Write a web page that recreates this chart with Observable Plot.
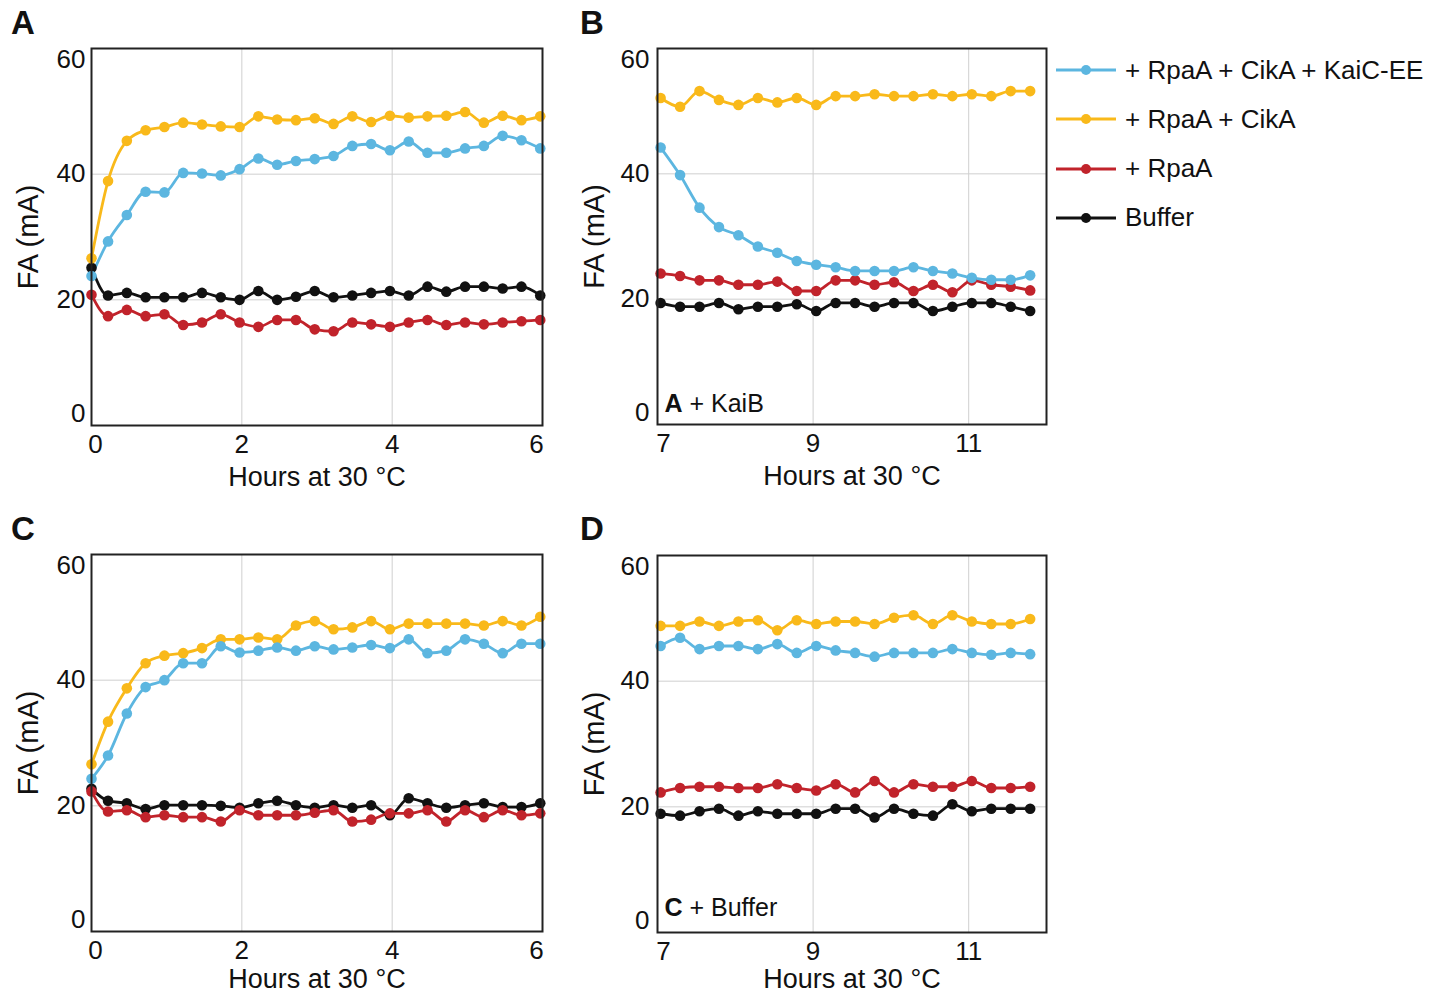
<!DOCTYPE html>
<html>
<head>
<meta charset="utf-8">
<script src="https://cdn.jsdelivr.net/npm/d3@7"></script>
<script src="https://cdn.jsdelivr.net/npm/@observablehq/plot@0.6"></script>
<style>
  html, body { margin: 0; padding: 0; background: #fff; }
  body { font-family: "Liberation Sans", Arial, Helvetica, sans-serif; color: #111; }
  #root { position: relative; width: 1431px; height: 995px; overflow: hidden; background: #fff; }
  .panel { position: absolute; }
  .letter { position: absolute; font-weight: bold; font-size: 33px; line-height: 33px; color: #111; }
  .legend { position: absolute; left: 1055px; top: 50px; }
  .legend .row { position: absolute; left: 0; height: 40px; display: flex; align-items: center; white-space: nowrap; font-size: 26px; }
  .legend svg { margin-right: 8px; }
</style>
</head>
<body>
<div id="root"></div>
<script>
// ---- Series ----
const seriesNames = ["+ RpaA + CikA + KaiC-EE", "+ RpaA + CikA", "+ RpaA", "Buffer"];
const seriesColors = ["#5cb6e0", "#f9b91a", "#c1232b", "#111111"];

// ---- Time points (hours at 30 °C) ----
const hoursEarly = [0, 0.22, 0.47, 0.72, 0.97, 1.22, 1.47, 1.72, 1.97, 2.22, 2.47, 2.72, 2.97, 3.22, 3.47, 3.72, 3.97, 4.22, 4.47, 4.72, 4.97, 5.22, 5.47, 5.72, 5.97];
const hoursLate = [7.04, 7.29, 7.54, 7.79, 8.04, 8.29, 8.54, 8.79, 9.04, 9.29, 9.54, 9.79, 10.04, 10.29, 10.54, 10.79, 11.04, 11.29, 11.54, 11.79];

// ---- Panel A ----
const aKaiCEE = [23.8, 29.3, 33.5, 37.2, 37.1, 40.2, 40.1, 39.8, 40.8, 42.5, 41.5, 42.1, 42.4, 42.9, 44.5, 44.8, 43.8, 45.2, 43.4, 43.4, 44.1, 44.5, 46.1, 45.4, 44.1];
const aCikA   = [26.6, 38.9, 45.3, 47.0, 47.5, 48.2, 47.9, 47.6, 47.5, 49.2, 48.7, 48.6, 48.9, 48.0, 49.2, 48.3, 49.3, 49.0, 49.2, 49.3, 49.9, 48.2, 49.3, 48.6, 49.2];
const aRpaA   = [20.8, 17.4, 18.4, 17.4, 17.7, 16.0, 16.4, 17.7, 16.4, 15.7, 16.8, 16.8, 15.3, 15.0, 16.4, 16.1, 15.7, 16.4, 16.8, 16.0, 16.4, 16.1, 16.4, 16.6, 16.8];
const aBuffer = [25.1, 20.7, 21.1, 20.4, 20.4, 20.4, 21.1, 20.4, 20.0, 21.4, 20.0, 20.5, 21.4, 20.4, 20.7, 21.1, 21.4, 20.7, 22.1, 21.3, 22.1, 22.1, 21.8, 22.1, 20.7];

// ---- Panel B (A + KaiB) ----
const bKaiCEE = [44.2, 39.8, 34.6, 31.5, 30.2, 28.4, 27.4, 26.1, 25.5, 25.1, 24.5, 24.5, 24.5, 25.1, 24.5, 24.1, 23.4, 23.1, 23.1, 23.8];
const bCikA   = [52.1, 50.7, 53.2, 51.8, 51.0, 52.1, 51.4, 52.1, 51.0, 52.4, 52.4, 52.7, 52.4, 52.4, 52.7, 52.4, 52.7, 52.4, 53.2, 53.2];
const bRpaA   = [24.1, 23.7, 23.0, 23.0, 22.3, 22.3, 22.8, 21.3, 21.3, 23.0, 23.0, 22.3, 22.7, 21.3, 22.3, 21.1, 23.0, 22.3, 22.0, 21.4];
const bBuffer = [19.4, 18.8, 18.8, 19.4, 18.4, 18.8, 18.8, 19.2, 18.1, 19.4, 19.4, 18.8, 19.4, 19.4, 18.1, 18.8, 19.4, 19.4, 18.8, 18.1];

// ---- Panel C ----
const cKaiCEE = [24.3, 28.0, 34.7, 38.9, 40.0, 42.7, 42.7, 45.4, 44.4, 44.7, 45.2, 44.7, 45.4, 44.9, 45.2, 45.6, 45.1, 46.5, 44.3, 44.7, 46.5, 45.8, 44.3, 45.8, 45.8];
const cCikA   = [26.6, 33.4, 38.7, 42.7, 43.9, 44.3, 45.1, 46.5, 46.5, 46.8, 46.5, 48.7, 49.4, 48.1, 48.4, 49.4, 48.1, 49.0, 49.0, 49.0, 49.0, 48.7, 49.4, 48.7, 50.1];
const cRpaA   = [22.3, 19.1, 19.3, 18.2, 18.5, 18.2, 18.2, 17.5, 19.3, 18.5, 18.5, 18.5, 18.9, 19.3, 17.5, 17.8, 18.8, 18.8, 19.3, 17.5, 19.3, 18.2, 19.3, 18.5, 18.8];
const cBuffer = [22.7, 20.8, 20.4, 19.5, 20.1, 20.1, 20.1, 20.0, 19.7, 20.4, 20.8, 20.1, 19.7, 20.1, 19.7, 20.1, 18.5, 21.2, 20.4, 19.7, 20.1, 20.4, 19.8, 19.8, 20.4];

// ---- Panel D (C + Buffer) ----
const dKaiCEE = [45.6, 46.9, 45.1, 45.6, 45.6, 45.1, 45.9, 44.5, 45.6, 44.9, 44.5, 43.9, 44.5, 44.5, 44.5, 45.1, 44.5, 44.2, 44.5, 44.3];
const dCikA   = [48.8, 48.8, 49.5, 48.8, 49.5, 49.7, 48.1, 49.7, 49.1, 49.5, 49.5, 49.1, 50.1, 50.5, 49.1, 50.5, 49.5, 49.1, 49.1, 49.9];
const dRpaA   = [22.3, 23.0, 23.2, 23.2, 23.0, 23.0, 23.6, 23.0, 22.6, 23.6, 22.3, 24.1, 22.3, 23.6, 23.2, 23.2, 24.1, 23.0, 23.0, 23.2];
const dBuffer = [18.9, 18.6, 19.3, 19.7, 18.6, 19.3, 18.9, 18.9, 18.9, 19.7, 19.7, 18.3, 19.7, 18.9, 18.6, 20.4, 19.3, 19.7, 19.7, 19.7];

// ---- Axis text ----
const xLabel = "Hours at 30 °C";
const yLabel = "FA (mA)";
const xTicksEarly = [0, 2, 4, 6];
const xTicksLate = [7, 9, 11];

function longData(times, arrays) {
  const rows = [];
  const order = [3, 2, 1, 0]; // draw order: Buffer, RpaA, CikA, KaiC-EE
  for (const si of order) {
    arrays[si].forEach((v, i) => rows.push({t: times[i], v, s: seriesNames[si]}));
  }
  return rows;
}

const FONT = "Liberation Sans, Arial, Helvetica, sans-serif";

function makePanel(cfg) {
  const data = longData(cfg.times, cfg.arrays);
  const xt = cfg.xTicks;
  const first = xt[0], last = xt[xt.length - 1];
  const inner = xt.filter(d => d !== first && (d !== last || !cfg.lastAtEdge));
  const gridTicks = xt.filter(d => d !== first && (d !== last || !cfg.lastAtEdge));
  const marks = [
    Plot.gridX(gridTicks, {stroke: "#cfcfcf", strokeOpacity: 1, strokeWidth: 1}),
    Plot.gridY([20, 40], {stroke: "#cfcfcf", strokeOpacity: 1, strokeWidth: 1}),
    Plot.axisX(inner, {tickSize: 0, tickPadding: 9, fontSize: 26, label: null}),
    Plot.axisX([first], {tickSize: 0, tickPadding: 9, fontSize: 26, dx: cfg.firstDx, label: null}),
    ...(cfg.lastAtEdge ? [Plot.axisX([last], {tickSize: 0, tickPadding: 9, fontSize: 26, dx: -6, label: null})] : []),
    Plot.axisX([], {label: xLabel, labelAnchor: "center", labelArrow: "none", labelOffset: cfg.xLabelOffset, fontSize: 27}),
    Plot.axisY([20, 40], {tickSize: 0, tickPadding: cfg.yPad, fontSize: 26, label: null}),
    Plot.axisY([60], {tickSize: 0, tickPadding: cfg.yPad, fontSize: 26, dy: 11, label: null}),
    Plot.axisY([0], {tickSize: 0, tickPadding: cfg.yPad, fontSize: 26, dy: -12, label: null}),
    Plot.axisY([], {label: yLabel, labelAnchor: "center", labelArrow: "none", labelOffset: cfg.yLabelOffset, fontSize: 29}),
    Plot.line(data, {x: "t", y: "v", z: "s", stroke: "s", strokeWidth: 2.8, curve: "monotone-x"}),
    Plot.dot(data, {x: "t", y: "v", fill: "s", r: 5.3, stroke: "none"}),
    Plot.frame({stroke: "#222", strokeWidth: 2})
  ];
  if (cfg.note) {
    marks.push(Plot.text([cfg.note[0]], {text: d => d, frameAnchor: "bottom-left", textAnchor: "start", lineAnchor: "bottom", dx: 7, dy: cfg.noteDy, fontSize: 25, fontWeight: "bold", fill: "#111"}));
    marks.push(Plot.text([cfg.note[1]], {text: d => d, frameAnchor: "bottom-left", textAnchor: "start", lineAnchor: "bottom", dx: 7 + cfg.noteBoldW, dy: cfg.noteDy, fontSize: 25, fill: "#111"}));
  }
  const svg = Plot.plot({
    width: cfg.width, height: cfg.height,
    marginLeft: cfg.ml, marginRight: cfg.mr, marginTop: cfg.mt, marginBottom: cfg.mb,
    style: {fontFamily: FONT, color: "#111", background: "transparent", overflow: "visible"},
    x: {domain: cfg.xDomain},
    y: {domain: [0, 60]},
    color: {domain: seriesNames, range: seriesColors},
    marks
  });
  const div = document.createElement("div");
  div.className = "panel";
  div.style.left = cfg.left + "px";
  div.style.top = cfg.top + "px";
  div.appendChild(svg);
  document.getElementById("root").appendChild(div);
}

makePanel({left: 0, top: 0, width: 560, height: 500, ml: 91, mr: 18, mt: 48, mb: 75,
  times: hoursEarly, arrays: [aKaiCEE, aCikA, aRpaA, aBuffer], xDomain: [0, 6], xTicks: xTicksEarly,
  firstDx: 4, lastAtEdge: true, yPad: 6, xLabelOffset: 60, yLabelOffset: 74});
makePanel({left: 570, top: 0, width: 490, height: 500, ml: 87, mr: 14, mt: 48, mb: 76,
  times: hoursLate, arrays: [bKaiCEE, bCikA, bRpaA, bBuffer], xDomain: [7, 12], xTicks: xTicksLate,
  firstDx: 6, lastAtEdge: false, yPad: 8, xLabelOffset: 60, yLabelOffset: 74,
  note: ["A", "+ KaiB"], noteBoldW: 25, noteDy: -13});
makePanel({left: 0, top: 500, width: 560, height: 495, ml: 91, mr: 18, mt: 54, mb: 64,
  times: hoursEarly, arrays: [cKaiCEE, cCikA, cRpaA, cBuffer], xDomain: [0, 6], xTicks: xTicksEarly,
  firstDx: 4, lastAtEdge: true, yPad: 6, xLabelOffset: 56, yLabelOffset: 74});
makePanel({left: 570, top: 500, width: 490, height: 495, ml: 87, mr: 14, mt: 55, mb: 63,
  times: hoursLate, arrays: [dKaiCEE, dCikA, dRpaA, dBuffer], xDomain: [7, 12], xTicks: xTicksLate,
  firstDx: 6, lastAtEdge: false, yPad: 8, xLabelOffset: 55, yLabelOffset: 74,
  note: ["C", "+ Buffer"], noteBoldW: 25, noteDy: -17});

// panel letters
const letters = [["A", 11, 6], ["B", 580, 6], ["C", 11, 512], ["D", 580, 512]];
for (const [t, l, tp] of letters) {
  const el = document.createElement("div");
  el.className = "letter";
  el.textContent = t;
  el.style.left = l + "px";
  el.style.top = tp + "px";
  document.getElementById("root").appendChild(el);
}

// legend
const legend = document.createElement("div");
legend.className = "legend";
seriesNames.forEach((name, i) => {
  const row = document.createElement("div");
  row.className = "row";
  row.style.top = (i * 49.3) + "px";
  row.innerHTML = `<svg width="62" height="14" viewBox="0 0 62 14"><line x1="1" y1="7" x2="61" y2="7" stroke="${seriesColors[i]}" stroke-width="2.8"/><circle cx="31" cy="7" r="5" fill="${seriesColors[i]}"/></svg><span>${name}</span>`;
  legend.appendChild(row);
});
document.getElementById("root").appendChild(legend);
</script>
</body>
</html>
